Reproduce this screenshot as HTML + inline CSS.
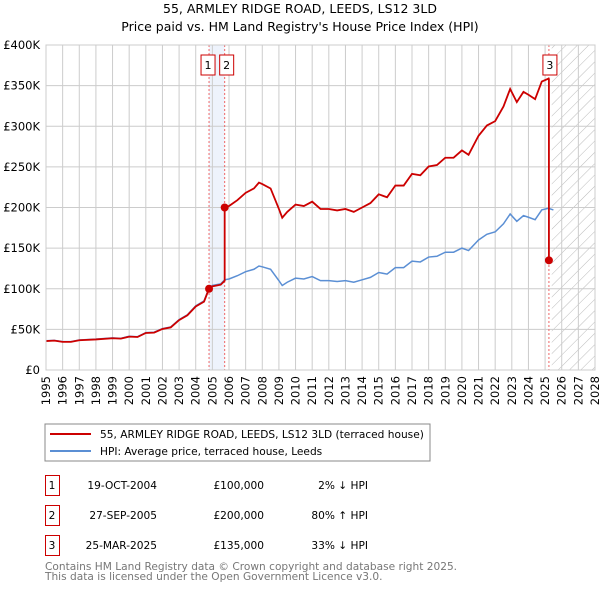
<!DOCTYPE html>
<html><head><meta charset="utf-8"><style>
body{margin:0;background:#fff;font-family:"DejaVu Sans","Liberation Sans",sans-serif;}
svg text{font-family:"DejaVu Sans","Liberation Sans",sans-serif;}
</style></head><body>
<svg id="c" width="600" height="590">
<defs><pattern id="hatch" width="8" height="8" patternUnits="userSpaceOnUse" patternTransform="rotate(45)"><line x1="0" y1="0" x2="0" y2="8" stroke="#bbb" stroke-width="1"/></pattern></defs>
<text x="300" y="13" text-anchor="middle" font-size="12.5">55, ARMLEY RIDGE ROAD, LEEDS, LS12 3LD</text>
<text x="300" y="31" text-anchor="middle" font-size="12.5">Price paid vs. HM Land Registry's House Price Index (HPI)</text>
<g id="plot"></g>
<rect x="45" y="424" width="385" height="37" fill="#fff" stroke="#888"/>
<line x1="50" y1="434" x2="91" y2="434" stroke="#cc0000" stroke-width="2"/>
<text x="100" y="438" font-size="10.6">55, ARMLEY RIDGE ROAD, LEEDS, LS12 3LD (terraced house)</text>
<line x1="50" y1="451" x2="91" y2="451" stroke="#5b8fd4" stroke-width="2"/>
<text x="100" y="455" font-size="10.6">HPI: Average price, terraced house, Leeds</text>
<g font-size="10.6">
<rect x="45.5" y="475.5" width="14" height="20" fill="none" stroke="#cc0000"/><text x="52" y="489" text-anchor="middle">1</text>
<text x="157" y="489" text-anchor="end">19-OCT-2004</text><text x="264" y="489" text-anchor="end">£100,000</text><text x="368" y="489" text-anchor="end">2% ↓ HPI</text>
<rect x="45.5" y="505.5" width="14" height="20" fill="none" stroke="#cc0000"/><text x="52" y="519" text-anchor="middle">2</text>
<text x="157" y="519" text-anchor="end">27-SEP-2005</text><text x="264" y="519" text-anchor="end">£200,000</text><text x="368" y="519" text-anchor="end">80% ↑ HPI</text>
<rect x="45.5" y="535.5" width="14" height="20" fill="none" stroke="#cc0000"/><text x="52" y="549" text-anchor="middle">3</text>
<text x="157" y="549" text-anchor="end">25-MAR-2025</text><text x="264" y="549" text-anchor="end">£135,000</text><text x="368" y="549" text-anchor="end">33% ↓ HPI</text>
</g>
<text x="45" y="570" font-size="10.6" fill="#777">Contains HM Land Registry data © Crown copyright and database right 2025.</text>
<text x="45" y="580" font-size="10.6" fill="#777">This data is licensed under the Open Government Licence v3.0.</text>
</svg>
<script>
const years=[1995,1995.5,1996,1996.5,1997,1998,1999,1999.5,2000,2000.5,2001,2001.5,2002,2002.5,2003,2003.5,2004,2004.5,2004.8,2005,2005.5,2005.74,2006,2006.5,2007,2007.5,2007.8,2008,2008.5,2009,2009.2,2009.5,2010,2010.5,2011,2011.5,2012,2012.5,2013,2013.5,2014,2014.5,2015,2015.5,2016,2016.5,2017,2017.5,2018,2018.5,2019,2019.5,2020,2020.4,2021,2021.5,2022,2022.5,2022.9,2023.3,2023.7,2024,2024.4,2024.8,2025.2,2025.5];
const hpi=[36,36.5,35,35,37,38,39.5,39,41.5,41,46,46.5,51,53,62,68,79,85,101,104,106,111,112,116,121,124,128,127,124,110,104,108,113,112,115,110,110,109,110,108,111,114,120,118,126,126,134,133,139,140,145,145,150,147,160,167,170,180,192,183,190,188,185,197,199,197];
const saleYears=[2004.8,2005.74,2025.23];
const salePrices=[100,200,135];
const saleLabels=["1","2","3"];
const yTicks=[0,50,100,150,200,250,300,350,400];
const yTickLabels=["£0","£50K","£100K","£150K","£200K","£250K","£300K","£350K","£400K"];
const xTicks=[];for(let y=1995;y<=2028;y++)xTicks.push(y);
const X0=46,X1=595,Y0=370,Y1=45;
const xs=v=>X0+(v-1995)/(2028-1995)*(X1-X0);
const ys=v=>Y0-v/400*(Y0-Y1);
const NS="http://www.w3.org/2000/svg";
const g=document.getElementById('plot');
function mk(t,a){const e=document.createElementNS(NS,t);for(const k in a)e.setAttribute(k,a[k]);g.appendChild(e);return e;}
let e=mk('rect',{x:xs(saleYears[0]),y:Y1,width:xs(saleYears[1])-xs(saleYears[0]),height:Y0-Y1,fill:'#eef3fc'});


e=mk('rect',{x:xs(2025.4),y:Y1,width:X1-xs(2025.4),height:Y0-Y1,fill:'url(#hatch)'});


yTicks.forEach((t,i)=>{
 const l=mk('line',{x1:X0,x2:X1,y1:ys(t),y2:ys(t),stroke:'#ccc'});
 
 
 const tx=mk('text',{x:X0-6,y:ys(t)+4,'text-anchor':'end','font-size':'11.5'});tx.textContent=yTickLabels[i];
 
 
});
xTicks.forEach(t=>{
 const l=mk('line',{x1:xs(t),x2:xs(t),y1:Y1,y2:Y0,stroke:'#ccc'});
 
 
 const tx=mk('text',{x:0,y:0,'text-anchor':'end','font-size':'11.5',transform:`translate(${xs(t)+4},${Y0+6}) rotate(-90)`});tx.textContent=t;
 
 
});
saleYears.forEach(s=>{
 const l=mk('line',{x1:xs(s),x2:xs(s),y1:Y1,y2:Y0,stroke:'#e66','stroke-dasharray':'2,2'});
 
 
});
const hp=years.map((y,i)=>xs(y)+','+ys(hpi[i])).join(' ');
e=mk('polyline',{points:hp,fill:'none',stroke:'#5b8fd4','stroke-width':1.5});


function hpiAt(t){for(let i=1;i<years.length;i++){if(t<=years[i]){const f=(t-years[i-1])/(years[i]-years[i-1]);return hpi[i-1]+f*(hpi[i]-hpi[i-1]);}}return hpi[hpi.length-1];}
const pts=[];
let fac=salePrices[0]/hpiAt(saleYears[0]);
years.forEach((y,i)=>{ if(y<=saleYears[0]) pts.push([y,hpi[i]*fac]); });
for(let k=0;k<saleYears.length;k++){
 const f=salePrices[k]/hpiAt(saleYears[k]);
 if(k>0)pts.push([saleYears[k],hpiAt(saleYears[k])*fac]);
 fac=f;pts.push([saleYears[k],salePrices[k]]);
 const nxt=k+1<saleYears.length?saleYears[k+1]:9999;
 years.forEach((y,i)=>{if(y>saleYears[k]&&y<nxt&&k<2)pts.push([y,hpi[i]*fac]);});
}
e=mk('polyline',{points:pts.map(p=>xs(p[0])+','+ys(p[1])).join(' '),fill:'none',stroke:'#cc0000','stroke-width':1.8});


saleYears.forEach((s,i)=>{
 const c=mk('circle',{cx:xs(s),cy:ys(salePrices[i]),r:4,fill:'#cc0000'});
 
 
 const r=mk('rect',{x:(i===0?xs(s)-8:i===1?xs(s)-5:xs(s)-6),y:55,width:14,height:20,fill:'#fff',stroke:'#cc0000'});
 
 
 const t=mk('text',{x:(i===0?xs(s)-1:i===1?xs(s)+2:xs(s)+1),y:69,'text-anchor':'middle','font-size':'11'});t.textContent=saleLabels[i];
 
 
});
e=mk('rect',{x:X0,y:Y1,width:X1-X0,height:Y0-Y1,fill:'none',stroke:'#ccc'});


</script>
</body></html>
